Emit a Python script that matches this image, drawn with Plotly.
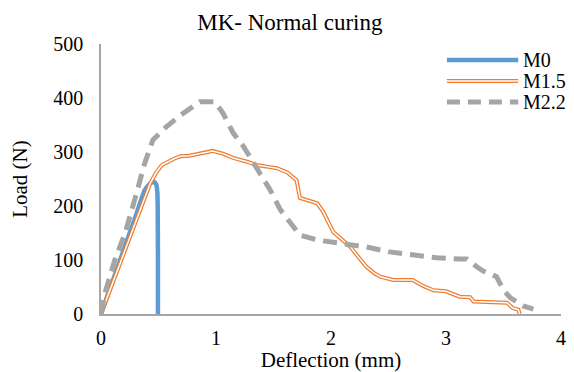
import plotly.graph_objects as go

# ---- data ----
m0_x = [0, 0.1, 0.2, 0.3, 0.38, 0.42, 0.46, 0.48, 0.49, 0.493, 0.495, 0.495]
m0_y = [0, 60, 120, 180, 229, 240, 245, 240, 225, 200, 100, 0]

m15_x = [0, 0.1, 0.2, 0.3, 0.43, 0.48, 0.53, 0.64, 0.69, 0.77, 0.89, 0.97, 1.06,
         1.15, 1.27, 1.35, 1.47, 1.53, 1.62, 1.70, 1.73, 1.80, 1.88, 1.93, 1.97,
         2.02, 2.10, 2.17, 2.24, 2.31, 2.38, 2.43, 2.54, 2.71, 2.80, 2.89, 3.00,
         3.12, 3.21, 3.24, 3.53, 3.58, 3.63, 3.64]
m15_y = [0, 56, 113, 170, 243, 262, 276, 288, 292, 293, 299, 302, 297,
         289, 282, 276, 272, 270, 262, 248, 215, 210, 205, 190, 174,
         152, 137, 124, 105, 87, 75, 69, 63, 63, 52, 44, 42,
         32, 31, 23, 21, 11, 8, 0]

m22_x = [0, 0.035, 0.12, 0.21, 0.30, 0.38, 0.45, 0.56, 0.69, 0.77, 0.86, 0.99,
         1.06, 1.15, 1.24, 1.38, 1.47, 1.56, 1.67, 1.73, 1.88, 2.08, 2.31, 2.51,
         2.71, 2.92, 3.12, 3.18, 3.27, 3.32, 3.44, 3.50, 3.56, 3.67, 3.76]
m22_y = [0, 39, 100, 150, 217, 279, 322, 345, 368, 380, 393, 393,
         372, 335, 310, 261, 230, 193, 161, 146, 137, 131, 124, 115,
         109, 104, 102, 102, 87, 80, 69, 44, 30, 15, 9]

series_names = ["M0", "M1.5", "M2.2"]
x_ticks = [0, 1, 2, 3, 4]
y_ticks = [0, 100, 200, 300, 400, 500]

BLUE = "#5b9bd5"
ORANGE = "#ed7d31"
GRAY = "#a5a5a5"
FONT = "Liberation Serif, Times New Roman, serif"

fig = go.Figure()
fig.add_trace(go.Scatter(x=m0_x, y=m0_y, mode="lines", name=series_names[0],
                         line=dict(color=BLUE, width=4.5, shape="spline", smoothing=0.6),
                         showlegend=False))
fig.add_trace(go.Scatter(x=m15_x, y=m15_y, mode="lines", name=series_names[1],
                         line=dict(color=ORANGE, width=4), showlegend=False))
fig.add_trace(go.Scatter(x=m15_x, y=m15_y, mode="lines", name=series_names[1] + " inner",
                         line=dict(color="white", width=1.5), showlegend=False,
                         hoverinfo="skip"))
fig.add_trace(go.Scatter(x=m22_x, y=m22_y, mode="lines", name=series_names[2],
                         line=dict(color=GRAY, width=5, dash="14px,8px"),
                         showlegend=False))

# ---- manual legend ----
leg_x0, leg_x1, txt_x = 0.752, 0.907, 0.913
leg_ys = [0.941, 0.863, 0.785]
shapes = [
    dict(type="line", xref="paper", yref="paper", x0=leg_x0, x1=leg_x1,
         y0=leg_ys[0], y1=leg_ys[0], line=dict(color=BLUE, width=4.5)),
    dict(type="line", xref="paper", yref="paper", x0=leg_x0, x1=leg_x1,
         y0=leg_ys[1], y1=leg_ys[1], line=dict(color=ORANGE, width=4)),
    dict(type="line", xref="paper", yref="paper", x0=leg_x0, x1=leg_x1,
         y0=leg_ys[1], y1=leg_ys[1], line=dict(color="white", width=1.5)),
    dict(type="line", xref="paper", yref="paper", x0=leg_x0, x1=leg_x1,
         y0=leg_ys[2], y1=leg_ys[2], line=dict(color=GRAY, width=5, dash="13px,8px")),
]
annotations = [
    dict(x=txt_x, y=yy, xref="paper", yref="paper", text=name, showarrow=False,
         xanchor="left", yanchor="middle", font=dict(family=FONT, size=20, color="black"))
    for name, yy in zip(series_names, leg_ys)
]

fig.update_layout(
    width=574, height=372,
    margin=dict(l=101, r=13, t=44, b=58, autoexpand=False),
    paper_bgcolor="white", plot_bgcolor="white",
    font=dict(family=FONT, size=20, color="black"),
    title=dict(text="MK- Normal curing", x=0.505, xref="container", xanchor="center",
               y=1 - 22 / 372, yref="container", yanchor="middle",
               font=dict(family=FONT, size=23, color="black")),
    shapes=shapes, annotations=annotations,
    showlegend=False,
)
fig.update_xaxes(range=[0, 4], tickvals=x_ticks, showgrid=False, zeroline=False,
                 showline=True, linecolor="#a6a6a6", linewidth=1.5,
                 ticks="", ticklabelstandoff=5, automargin=False,
                 title=dict(text="Deflection (mm)", standoff=2,
                            font=dict(family=FONT, size=21)),
                 tickfont=dict(family=FONT, size=20))
fig.update_yaxes(range=[0, 500], tickvals=y_ticks, showgrid=False, zeroline=False,
                 showline=True, linecolor="#a6a6a6", linewidth=1.5,
                 ticks="", ticklabelstandoff=12, automargin=False,
                 title=dict(text="Load (N)", standoff=20,
                            font=dict(family=FONT, size=21)),
                 tickfont=dict(family=FONT, size=20))

fig.write_html("out.html")
